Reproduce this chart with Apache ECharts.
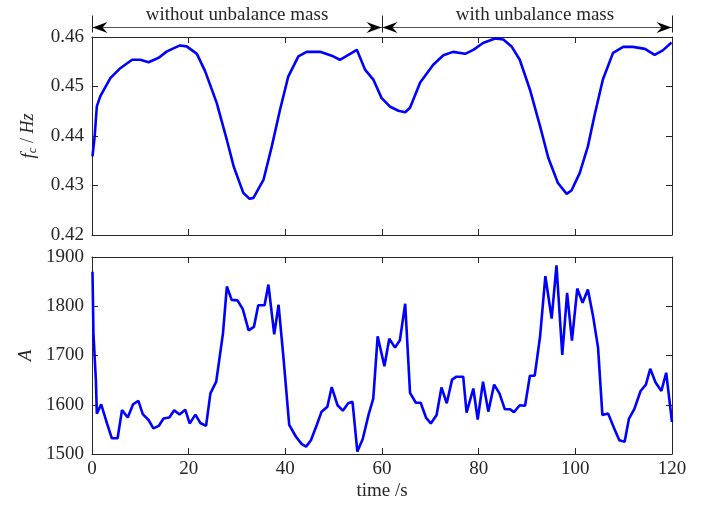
<!DOCTYPE html>
<html>
<head>
<meta charset="utf-8">
<script src="https://cdn.jsdelivr.net/npm/echarts@6/dist/echarts.min.js"></script>
<style>
  html, body { margin: 0; padding: 0; background: #fff; }
  #chart { width: 703px; height: 506px; }
</style>
</head>
<body>
<div id="chart"></div>
<script>
// Centre frequency f_c (Hz) over time (s)
const tTop = [0.1, 0.55, 1.0, 1.7, 3.8, 5.85, 8.3, 10.0, 11.7, 13.8, 15.5, 18.2, 19.6, 21.7, 23.4, 25.8, 27.9, 29.3, 31.3, 32.6, 33.4, 35.5, 37.2, 38.9, 40.6, 42.7, 44.4, 47.2, 49.9, 51.3, 52.7, 54.8, 56.5, 58.2, 59.9, 61.7, 63.4, 64.8, 65.8, 67.9, 70.6, 72.7, 74.7, 77.2, 78.9, 80.9, 83.4, 85.1, 86.8, 88.5, 90.6, 92.7, 94.4, 96.4, 98.2, 99.2, 100.9, 102.6, 104.0, 105.7, 107.8, 109.9, 111.9, 114.4, 116.4, 118.1, 119.9];
const fTop = [0.4359, 0.4399, 0.4460, 0.4480, 0.4517, 0.4537, 0.4554, 0.4554, 0.4549, 0.4558, 0.4571, 0.4583, 0.4581, 0.4566, 0.4531, 0.4467, 0.4392, 0.4339, 0.4285, 0.4273, 0.4275, 0.4312, 0.4379, 0.4453, 0.4520, 0.4561, 0.4570, 0.4570, 0.4561, 0.4554, 0.4562, 0.4574, 0.4534, 0.4514, 0.4477, 0.4459, 0.4451, 0.4448, 0.4457, 0.4508, 0.4544, 0.4563, 0.4570, 0.4566, 0.4574, 0.4588, 0.4597, 0.4595, 0.4581, 0.4554, 0.4494, 0.4420, 0.4356, 0.4305, 0.4283, 0.4290, 0.4325, 0.4379, 0.4443, 0.4514, 0.4568, 0.4580, 0.4580, 0.4576, 0.4564, 0.4573, 0.4589];

// Amplitude A over time (s)
const tBot = [0.1, 0.3, 0.8, 1.0, 1.9, 3.1, 4.1, 5.3, 6.2, 7.4, 8.5, 9.6, 10.5, 11.7, 12.7, 13.8, 14.8, 16.0, 17.0, 18.1, 19.3, 20.2, 21.4, 22.4, 23.6, 24.5, 25.7, 27.1, 27.9, 28.9, 30.1, 31.2, 32.4, 33.5, 34.4, 35.7, 36.5, 37.7, 38.6, 39.6, 40.8, 42.2, 43.4, 44.3, 45.3, 46.5, 47.5, 48.7, 49.6, 50.8, 51.9, 53.0, 53.9, 54.9, 56.0, 57.2, 58.2, 59.1, 60.5, 61.5, 62.7, 63.7, 64.8, 65.8, 67.0, 68.0, 69.1, 70.1, 71.3, 72.3, 73.4, 74.5, 75.4, 76.8, 77.5, 78.9, 79.8, 80.9, 82.0, 83.2, 84.3, 85.4, 86.5, 87.3, 88.5, 89.6, 90.6, 91.6, 92.7, 93.8, 95.1, 96.1, 97.3, 98.3, 99.3, 100.4, 101.5, 102.6, 103.7, 104.7, 105.6, 106.8, 108.0, 109.1, 110.2, 111.1, 112.2, 113.5, 114.6, 115.5, 116.6, 117.8, 118.8, 120.0];
const aBot = [1870, 1745, 1650, 1582, 1601, 1562, 1532, 1532, 1589, 1574, 1601, 1608, 1581, 1569, 1552, 1557, 1572, 1574, 1589, 1580, 1590, 1562, 1580, 1563, 1557, 1623, 1647, 1745, 1840, 1813, 1812, 1794, 1751, 1758, 1802, 1802, 1844, 1743, 1803, 1697, 1559, 1535, 1520, 1515, 1528, 1559, 1586, 1596, 1636, 1599, 1588, 1603, 1606, 1505, 1530, 1579, 1613, 1739, 1678, 1734, 1716, 1731, 1805, 1624, 1604, 1604, 1574, 1562, 1579, 1635, 1603, 1651, 1657, 1657, 1584, 1633, 1570, 1647, 1586, 1641, 1623, 1591, 1591, 1585, 1599, 1598, 1659, 1659, 1738, 1861, 1775, 1883, 1701, 1827, 1730, 1836, 1807, 1834, 1778, 1716, 1579, 1582, 1553, 1528, 1525, 1572, 1591, 1628, 1641, 1673, 1645, 1628, 1665, 1565];

// Axis ticks
const xTicks = [0, 20, 40, 60, 80, 100, 120];
const fTicks = [0.42, 0.43, 0.44, 0.45, 0.46];
const aTicks = [1500, 1600, 1700, 1800, 1900];

// Test phases shown above the upper panel
const phases = [
  { from: 0, to: 60, text: 'without unbalance mass' },
  { from: 60, to: 120, text: 'with unbalance mass' }
];

const SERIF = 'Liberation Serif';
const TEXT_COLOR = '#262626';
const AXIS_COLOR = '#262626';
const LINE_COLOR = '#0000ff';

const chart = echarts.init(document.getElementById('chart'), null, { renderer: 'canvas' });

const serifStyle = { fontFamily: SERIF, fontSize: 19, color: TEXT_COLOR };

const tickLabel = (show, margin, decimals) => ({
  show, margin,
  color: TEXT_COLOR, fontFamily: SERIF, fontSize: 19,
  formatter: v => '{n|' + (decimals ? Number(v).toFixed(decimals) : String(v)) + '}',
  rich: { n: serifStyle }
});

function xAxisPair(gridIndex, showLabels) {
  const base = {
    type: 'value', gridIndex,
    min: xTicks[0], max: xTicks[xTicks.length - 1],
    interval: xTicks[1] - xTicks[0],
    splitLine: { show: false },
    axisLine: { show: true, onZero: false, lineStyle: { color: AXIS_COLOR, width: 1 } },
    axisTick: { show: true, inside: true, length: 6, lineStyle: { color: AXIS_COLOR } }
  };
  const bottom = Object.assign({}, base, {
    position: 'bottom',
    axisLabel: tickLabel(showLabels, 6, 0),
    name: showLabels ? 'time /s' : '',
    nameLocation: 'middle', nameGap: 28,
    nameTextStyle: { color: TEXT_COLOR, fontFamily: SERIF, fontSize: 19 }
  });
  const top = Object.assign({}, base, { position: 'top', axisLabel: { show: false } });
  return [bottom, top];
}

function yAxisPair(gridIndex, ticks, decimals, name, gap) {
  const base = {
    type: 'value', gridIndex,
    min: ticks[0], max: ticks[ticks.length - 1],
    interval: +(ticks[1] - ticks[0]).toFixed(6),
    splitLine: { show: false },
    axisLine: { show: true, onZero: false, lineStyle: { color: AXIS_COLOR, width: 1 } },
    axisTick: { show: true, inside: true, length: 6, lineStyle: { color: AXIS_COLOR } }
  };
  const left = Object.assign({}, base, {
    position: 'left',
    axisLabel: tickLabel(true, 8, decimals),
    name, nameLocation: 'middle', nameGap: gap, nameRotate: 90,
    nameMoveOverlap: false,
    nameTextStyle: {
      color: TEXT_COLOR, fontFamily: SERIF, fontSize: 18, fontStyle: 'italic',
      rich: {
        f: { fontFamily: SERIF, fontSize: 19, fontStyle: 'italic', color: TEXT_COLOR },
        c: { fontFamily: SERIF, fontSize: 13, fontStyle: 'italic', color: TEXT_COLOR, verticalAlign: 'bottom', padding: [8, 0, 0, 0] },
        s: { fontFamily: SERIF, fontSize: 18, fontStyle: 'normal', color: TEXT_COLOR },
        h: { fontFamily: SERIF, fontSize: 18, fontStyle: 'italic', color: TEXT_COLOR },
        a: { fontFamily: SERIF, fontSize: 19, fontStyle: 'italic', color: TEXT_COLOR }
      }
    }
  });
  const right = Object.assign({}, base, { position: 'right', axisLabel: { show: false } });
  return [left, right];
}

const topX = xAxisPair(0, false);
const botX = xAxisPair(1, true);
const topY = yAxisPair(0, fTicks, 2, '{f|f}{c|c}{s| / }{h|Hz}', 53);
const botY = yAxisPair(1, aTicks, 0, '{a|A}', 57);

const lineStyle = { color: LINE_COLOR, width: 2.6 };

chart.setOption({
  animation: false,
  backgroundColor: '#ffffff',
  grid: [
    { left: 92, right: 31, top: 37, height: 198 },
    { left: 92, right: 31, top: 257, height: 197 }
  ],
  xAxis: [topX[0], topX[1], botX[0], botX[1]],
  yAxis: [topY[0], topY[1], botY[0], botY[1]],
  series: [
    {
      type: 'line', xAxisIndex: 0, yAxisIndex: 0,
      data: tTop.map((t, i) => [t, fTop[i]]),
      showSymbol: false, smooth: false, lineStyle, clip: true
    },
    {
      type: 'line', xAxisIndex: 2, yAxisIndex: 2,
      data: tBot.map((t, i) => [t, aBot[i]]),
      showSymbol: false, smooth: false, lineStyle, clip: true
    }
  ]
});

// Phase brackets above the upper panel, placed through the upper grid's scales
function drawPhases() {
  const toPx = (x, y) => chart.convertToPixel({ xAxisIndex: 0, yAxisIndex: 0 }, [x, y]);
  const topEdge = toPx(0, fTicks[fTicks.length - 1])[1];
  const lineY = topEdge - 9.5;
  const elements = [];
  const head = (tipX, dir) => ({
    type: 'polygon',
    shape: { points: [[tipX, lineY], [tipX + dir * 15, lineY - 5.5], [tipX + dir * 10, lineY], [tipX + dir * 15, lineY + 5.5]] },
    style: { fill: '#000' }, z: 10
  });
  const bounds = new Set();
  phases.forEach(p => {
    const x0 = toPx(p.from, 0)[0];
    const x1 = toPx(p.to, 0)[0];
    bounds.add(p.from); bounds.add(p.to);
    elements.push({
      type: 'line', shape: { x1: x0, y1: lineY, x2: x1, y2: lineY },
      style: { stroke: '#555', lineWidth: 1 }, z: 9
    });
    elements.push(head(x0 + 0.5, 1));
    elements.push(head(x1 - 0.5, -1));
    elements.push({
      type: 'text', x: (x0 + x1) / 2 + (p.from === 0 ? 0 : 8), y: lineY - 12,
      style: { text: p.text, fontFamily: SERIF, fontSize: 19, fill: TEXT_COLOR, align: 'center', verticalAlign: 'middle' },
      z: 10
    });
  });
  bounds.forEach(b => {
    const x = Math.round(toPx(b, 0)[0]) + 0.5;
    elements.push({
      type: 'line', shape: { x1: x, y1: lineY - 12, x2: x, y2: lineY + 5 },
      style: { stroke: '#222', lineWidth: 1 }, z: 10
    });
  });
  chart.setOption({ graphic: elements });
}
drawPhases();
</script>
</body>
</html>
